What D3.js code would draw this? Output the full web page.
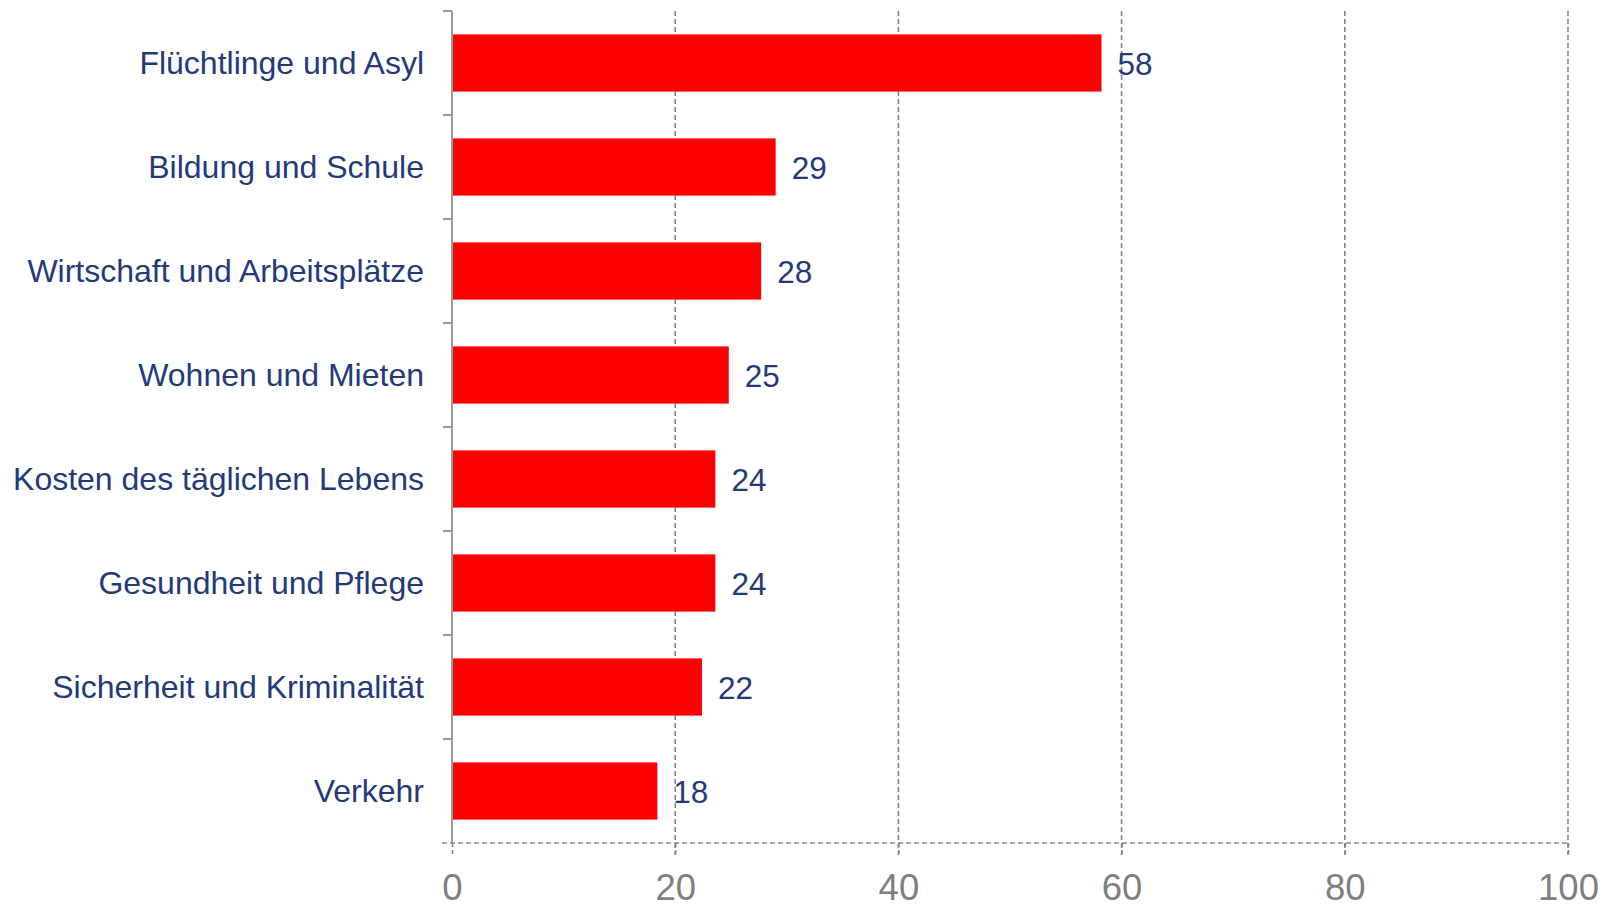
<!DOCTYPE html>
<html>
<head>
<meta charset="utf-8">
<script src="https://cdn.jsdelivr.net/npm/d3@7"></script>
<style>
  html, body { margin: 0; padding: 0; background: #fff; }
  svg { display: block; }
  text { font-family: "Liberation Sans", Arial, sans-serif; }
</style>
</head>
<body>
<svg id="chart" width="1615" height="908"></svg>
<script>
const categories = [
  "Flüchtlinge und Asyl",
  "Bildung und Schule",
  "Wirtschaft und Arbeitsplätze",
  "Wohnen und Mieten",
  "Kosten des täglichen Lebens",
  "Gesundheit und Pflege",
  "Sicherheit und Kriminalität",
  "Verkehr"
];
const values = [58.2, 29.0, 27.7, 24.8, 23.6, 23.6, 22.4, 18.4];
const valueLabels = ["58", "29", "28", "25", "24", "24", "22", "18"];
const xTicks = [0, 20, 40, 60, 80, 100];

(function () {
const svg = d3.select("#chart");
const mLeft = 452, mRight = 1568, mTop = 11, mBottom = 843;

const x = d3.scaleLinear().domain([0, 100]).range([mLeft, mRight]);
const y = d3.scaleBand().domain(categories).range([mTop, mBottom])
  .paddingInner(0.45).paddingOuter(0.225);

const gridColor = "#868686";

// vertical gridlines (dashed)
svg.append("g").selectAll("line").data(xTicks.filter(d => d > 0)).join("line")
  .attr("x1", d => x(d)).attr("x2", d => x(d))
  .attr("y1", mTop).attr("y2", mBottom + 12)
  .attr("stroke", gridColor).attr("stroke-width", 1.6)
  .attr("stroke-dasharray", "5,3");

// x axis (dashed line) with labels
const xAxis = d3.axisBottom(x).tickValues(xTicks).tickSize(12).tickPadding(19)
  .tickFormat(d3.format("d"));
const gx = svg.append("g").attr("transform", `translate(0,${mBottom})`).call(xAxis);
gx.select(".domain").remove();
gx.append("line").attr("x1", mLeft - 10).attr("x2", mRight).attr("y1", 0).attr("y2", 0)
  .attr("stroke", gridColor).attr("stroke-width", 1.6).attr("stroke-dasharray", "5,3");
gx.selectAll(".tick line").attr("stroke", gridColor).attr("stroke-width", 1.6)
  .attr("stroke-dasharray", "4,3");
gx.selectAll(".tick text").attr("fill", "#7f7f7f").attr("font-size", 36.5)
  .attr("font-family", "'Liberation Sans', Arial, sans-serif");

// bars
svg.append("g").selectAll("rect").data(categories).join("rect")
  .attr("x", x(0))
  .attr("y", d => y(d))
  .attr("width", (d, i) => x(values[i]) - x(0))
  .attr("height", y.bandwidth())
  .attr("fill", "#ff0000");

// y axis: solid line with ticks at category boundaries
const boundaries = d3.range(categories.length + 1).map(i => mTop + i * y.step());
svg.append("line").attr("x1", mLeft).attr("x2", mLeft).attr("y1", mTop).attr("y2", mBottom)
  .attr("stroke", "#9a9a9a").attr("stroke-width", 2);
svg.append("g").selectAll("line").data(boundaries.slice(0, -1)).join("line")
  .attr("x1", mLeft - 9).attr("x2", mLeft).attr("y1", d => d).attr("y2", d => d)
  .attr("stroke", "#9a9a9a").attr("stroke-width", 2);

// category labels
svg.append("g").selectAll("text").data(categories).join("text")
  .attr("x", mLeft - 28)
  .attr("y", d => y(d) + y.bandwidth() / 2)
  .attr("dy", "0.35em")
  .attr("text-anchor", "end")
  .attr("font-size", 32)
  .attr("fill", "#243a78")
  .text(d => d);

// value labels
svg.append("g").selectAll("text").data(categories).join("text")
  .attr("x", (d, i) => x(values[i]) + 16)
  .attr("y", d => y(d) + y.bandwidth() / 2)
  .attr("dy", "0.38em")
  .attr("font-size", 31.5)
  .attr("fill", "#243a78")
  .text((d, i) => valueLabels[i]);
})();
</script>
</body>
</html>
